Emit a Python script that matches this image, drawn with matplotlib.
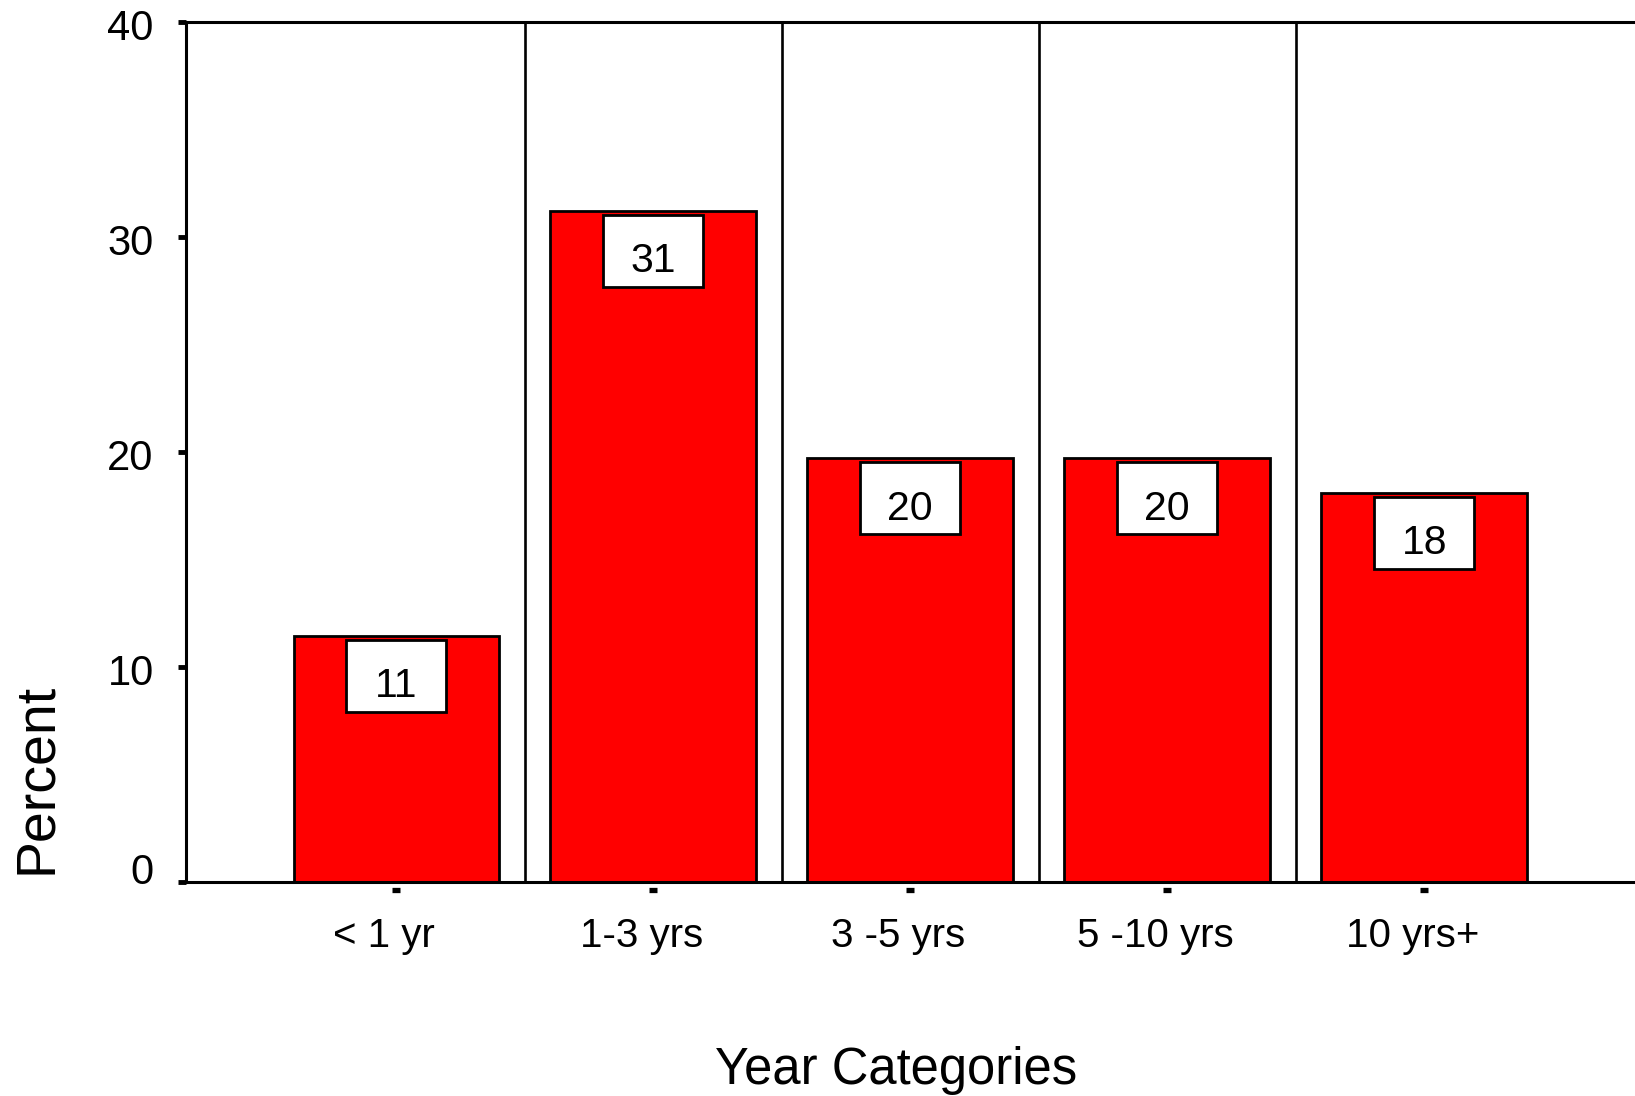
import matplotlib
matplotlib.use("Agg")
import matplotlib.pyplot as plt
import matplotlib.transforms as mtransforms
from matplotlib.patches import Rectangle

# ---- data ----
categories = ["< 1 yr", "1-3 yrs", "3 -5 yrs", "5 -10 yrs", "10 yrs+"]
percent = [11.45, 31.2, 19.7, 19.7, 18.1]
value_labels = ["11", "31", "20", "20", "18"]
y_ticks = [0, 10, 20, 30, 40]
x_title = "Year Categories"
y_title = "Percent"

plt.rcParams["font.family"] = ["Liberation Sans", "DejaVu Sans"]

fig = plt.figure(figsize=(16.35, 10.96), dpi=100)
ax = fig.add_axes([0.1135, 0.1953, 0.8865, 0.7847])

x = list(range(len(categories)))
ax.bar(x, percent, width=0.8, color="#ff0000", edgecolor="black",
       linewidth=2.0, zorder=2)

# separators between categories
for i in range(len(categories) - 1):
    ax.axvline(i + 0.5, color="black", linewidth=1.9, zorder=1)

# value boxes
bw, bh, gap = 0.39, 3.35, 0.18
for xi, v, lab in zip(x, percent, value_labels):
    top = v - gap
    ax.add_patch(Rectangle((xi - bw / 2, top - bh), bw, bh, facecolor="white",
                           edgecolor="black", linewidth=2.0, zorder=3))
    ax.text(xi, top - bh + 0.68, lab, ha="center", va="baseline",
            fontsize=29.5, zorder=4)

ax.set_xlim(-0.82, 4.82)
ax.set_ylim(0, 40)

for side in ["left", "top", "bottom"]:
    ax.spines[side].set_linewidth(2.2)
ax.spines["right"].set_visible(False)
ax.spines["bottom"].set_zorder(5)

ax.set_yticks(y_ticks)
ax.set_yticklabels([str(t) for t in y_ticks])
ax.tick_params(axis="y", direction="out", length=6, width=3.5, pad=17,
               labelsize=30)
ax.set_xticks(x)
ax.set_xticklabels(categories)
ax.tick_params(axis="x", length=0, pad=25, labelsize=29)

# detached x tick squares
trans = mtransforms.blended_transform_factory(ax.transData, ax.transAxes) + \
    mtransforms.ScaledTranslation(0, -0.085, fig.dpi_scale_trans)
ax.plot(x, [0] * len(x), linestyle="none", marker="_", markersize=5.8,
        markeredgewidth=3.8, color="black", transform=trans, clip_on=False)

# label offsets
for lab in ax.get_xticklabels():
    lab.set_transform(lab.get_transform() +
                      mtransforms.ScaledTranslation(-0.12, 0, fig.dpi_scale_trans))
for lab in ax.get_yticklabels():
    if lab.get_text() == "0":
        lab.set_transform(lab.get_transform() +
                          mtransforms.ScaledTranslation(0, 0.13, fig.dpi_scale_trans))
    else:
        lab.set_transform(lab.get_transform() +
                          mtransforms.ScaledTranslation(0, -0.03, fig.dpi_scale_trans))

fig.text(896 / 1635, 1 - 1084 / 1096, x_title, ha="center", va="baseline",
         fontsize=36.5)
fig.text(63 / 1635, 1 - 874 / 1096, y_title, rotation=90, ha="right",
         va="bottom", fontsize=40)

fig.savefig("out.png", dpi=100)
